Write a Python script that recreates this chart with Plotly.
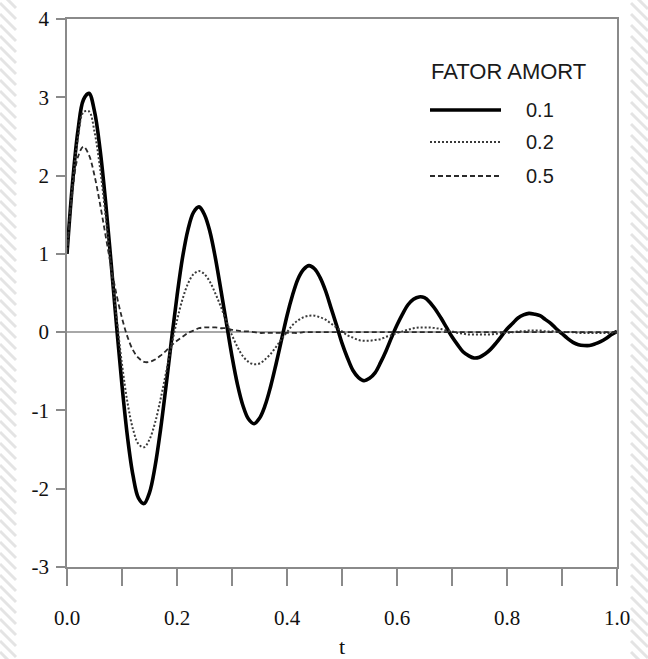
import plotly.graph_objects as go

# ---------------- data ----------------
t = [0.00, 0.01, 0.02, 0.03, 0.04, 0.05, 0.06, 0.07, 0.08, 0.09,
     0.10, 0.11, 0.12, 0.13, 0.14, 0.15, 0.16, 0.17, 0.18, 0.19,
     0.20, 0.21, 0.22, 0.23, 0.24, 0.25, 0.26, 0.27, 0.28, 0.29,
     0.30, 0.31, 0.32, 0.33, 0.34, 0.35, 0.36, 0.37, 0.38, 0.39,
     0.40, 0.41, 0.42, 0.43, 0.44, 0.45, 0.46, 0.47, 0.48, 0.49,
     0.50, 0.51, 0.52, 0.53, 0.54, 0.55, 0.56, 0.57, 0.58, 0.59,
     0.60, 0.61, 0.62, 0.63, 0.64, 0.65, 0.66, 0.67, 0.68, 0.69,
     0.70, 0.71, 0.72, 0.73, 0.74, 0.75, 0.76, 0.77, 0.78, 0.79,
     0.80, 0.81, 0.82, 0.83, 0.84, 0.85, 0.86, 0.87, 0.88, 0.89,
     0.90, 0.91, 0.92, 0.93, 0.94, 0.95, 0.96, 0.97, 0.98, 0.99,
     1.00]

amort_01 = [1.00, 1.90, 2.58, 2.97, 3.05, 2.82, 2.34, 1.68, 0.90, 0.09,
            -0.68, -1.34, -1.83, -2.12, -2.19, -2.05, -1.72, -1.25, -0.69, -0.10,
            0.46, 0.95, 1.31, 1.53, 1.60, 1.50, 1.28, 0.94, 0.53, 0.11,
            -0.31, -0.67, -0.94, -1.11, -1.17, -1.10, -0.94, -0.70, -0.41, -0.10,
            0.21, 0.47, 0.68, 0.80, 0.85, 0.81, 0.70, 0.53, 0.31, 0.09,
            -0.14, -0.33, -0.49, -0.58, -0.62, -0.59, -0.52, -0.39, -0.24, -0.07,
            0.09, 0.23, 0.35, 0.42, 0.45, 0.44, 0.38, 0.29, 0.18, 0.06,
            -0.06, -0.16, -0.25, -0.30, -0.33, -0.32, -0.28, -0.22, -0.14, -0.05,
            0.04, 0.11, 0.18, 0.22, 0.24, 0.23, 0.21, 0.16, 0.11, 0.04,
            -0.02, -0.08, -0.13, -0.16, -0.17, -0.17, -0.15, -0.12, -0.08, -0.03,
            0.01]

amort_02 = [1.00, 1.88, 2.49, 2.81, 2.82, 2.56, 2.10, 1.50, 0.84, 0.19,
            -0.41, -0.90, -1.24, -1.43, -1.47, -1.37, -1.16, -0.86, -0.52, -0.17,
            0.15, 0.42, 0.62, 0.74, 0.78, 0.74, 0.64, 0.49, 0.32, 0.13,
            -0.04, -0.19, -0.31, -0.38, -0.41, -0.40, -0.35, -0.28, -0.19, -0.09,
            0.00, 0.09, 0.15, 0.19, 0.21, 0.21, 0.19, 0.16, 0.11, 0.06,
            0.01, -0.04, -0.07, -0.10, -0.11, -0.11, -0.10, -0.09, -0.06, -0.04,
            -0.01, 0.01, 0.03, 0.05, 0.06, 0.06, 0.06, 0.05, 0.04, 0.02,
            0.01, -0.01, -0.02, -0.03, -0.03, -0.03, -0.03, -0.03, -0.02, -0.01,
            -0.01, 0.00, 0.01, 0.01, 0.02, 0.02, 0.02, 0.01, 0.01, 0.01,
            0.00, 0.00, 0.00, -0.01, -0.01, -0.01, -0.01, -0.01, -0.01, -0.01,
            0.00]

amort_05 = [1.00, 1.80, 2.24, 2.37, 2.26, 2.00, 1.64, 1.24, 0.84, 0.48,
            0.18, -0.06, -0.23, -0.33, -0.38, -0.38, -0.35, -0.30, -0.24, -0.17,
            -0.11, -0.06, -0.01, 0.02, 0.05, 0.06, 0.06, 0.06, 0.05, 0.05,
            0.03, 0.02, 0.01, 0.01, 0.00, -0.01, -0.01, -0.01, -0.01, -0.01,
            -0.01, -0.01, -0.01, 0.00, 0.00, 0.00, 0.00, 0.00, 0.00, 0.00,
            0.00, 0.00, 0.00, 0.00, 0.00, 0.00, 0.00, 0.00, 0.00, 0.00,
            0.00, 0.00, 0.00, 0.00, 0.00, 0.00, 0.00, 0.00, 0.00, 0.00,
            0.00, 0.00, 0.00, 0.00, 0.00, 0.00, 0.00, 0.00, 0.00, 0.00,
            0.00, 0.00, 0.00, 0.00, 0.00, 0.00, 0.00, 0.00, 0.00, 0.00,
            0.00, 0.00, 0.00, 0.00, 0.00, 0.00, 0.00, 0.00, 0.00, 0.00,
            0.00]

series_names = ["0.1", "0.2", "0.5"]
legend_title = "FATOR AMORT"
x_tickvals = [0.0, 0.1, 0.2, 0.3, 0.4, 0.5, 0.6, 0.7, 0.8, 0.9, 1.0]
x_ticktext = ["0.0", "", "0.2", "", "0.4", "", "0.6", "", "0.8", "", "1.0"]
y_tickvals = [-3, -2, -1, 0, 1, 2, 3, 4]
y_ticktext = ["-3", "-2", "-1", "0", "1", "2", "3", "4"]

# ---------------- layout geometry ----------------
W, H = 648, 659
L, R, T, B = 67, 31, 19, 92
PW, PH = W - L - R, H - T - B


def pxx(x):
    return (x - L) / PW


def pxy(y):
    return (H - B - y) / PH


styles = [
    dict(color="#000000", width=3.6, dash="solid"),
    dict(color="#3a3a3a", width=2.0, dash="2px,2px"),
    dict(color="#2a2a2a", width=1.8, dash="5px,3px"),
]

fig = go.Figure()
for name, ys, st in zip(series_names, [amort_01, amort_02, amort_05], styles):
    fig.add_trace(go.Scatter(
        x=t, y=ys, mode="lines", name=name, showlegend=False,
        line=dict(color=st["color"], width=st["width"], dash=st["dash"],
                  shape="spline", smoothing=1.0),
        hoverinfo="skip",
    ))

shapes = []
# hatched page edges (decoration)
stripe_col = "#e4e4e4"
for x0, x1 in [(0, 16), (631, 648)]:
    w = x1 - x0
    y0 = -30
    while y0 < H + 10:
        shapes.append(dict(type="line", xref="paper", yref="paper",
                           x0=pxx(x0), y0=pxy(y0), x1=pxx(x1), y1=pxy(y0 + w),
                           line=dict(color=stripe_col, width=3), layer="below"))
        y0 += 11

# manual legend: line samples
leg_rows = [110, 142, 176]
for yy, st in zip(leg_rows, styles):
    shapes.append(dict(type="line", xref="paper", yref="paper",
                       x0=pxx(430), x1=pxx(501), y0=pxy(yy), y1=pxy(yy),
                       line=dict(color=st["color"], width=st["width"] if st["width"] < 3 else 3.4,
                                 dash=st["dash"])))

leg_font = "Liberation Sans, Arial, sans-serif"
annotations = [dict(text=legend_title, xref="paper", yref="paper",
                    x=pxx(429), y=pxy(72), xanchor="left", yanchor="middle",
                    showarrow=False,
                    font=dict(family=leg_font, size=22, color="#1a1a1a"))]
for yy, name in zip(leg_rows, series_names):
    annotations.append(dict(text=name, xref="paper", yref="paper",
                            x=pxx(524), y=pxy(yy), xanchor="left", yanchor="middle",
                            showarrow=False,
                            font=dict(family=leg_font, size=20, color="#1a1a1a")))

axis_col = "#8a8a8a"
tick_font = dict(family="Liberation Serif, Times New Roman, serif", size=21, color="#111111")

fig.update_layout(
    width=W, height=H, autosize=False,
    margin=dict(l=L, r=R, t=T, b=B, pad=0),
    paper_bgcolor="white", plot_bgcolor="white",
    showlegend=False,
    shapes=shapes, annotations=annotations,
    xaxis=dict(range=[0, 1], tickvals=x_tickvals, ticktext=x_ticktext,
               ticks="outside", ticklen=17, tickwidth=1.5, tickcolor=axis_col,
               showline=True, linecolor=axis_col, linewidth=1.5, mirror=True,
               showgrid=False, zeroline=False, tickfont=tick_font,
               ticklabelstandoff=14, automargin=False,
               title=dict(text="t", font=dict(family="Liberation Serif, Times New Roman, serif",
                                              size=22, color="#111111"), standoff=11)),
    yaxis=dict(range=[-3, 4], tickvals=y_tickvals, ticktext=y_ticktext,
               ticks="outside", ticklen=9, tickwidth=1.5, tickcolor=axis_col,
               showline=True, linecolor=axis_col, linewidth=1.5, mirror=True,
               showgrid=False, zeroline=True, zerolinecolor="#a8a8a8", zerolinewidth=1.5,
               tickfont=tick_font, ticklabelstandoff=3, automargin=False),
)

fig.write_html("out.html")
